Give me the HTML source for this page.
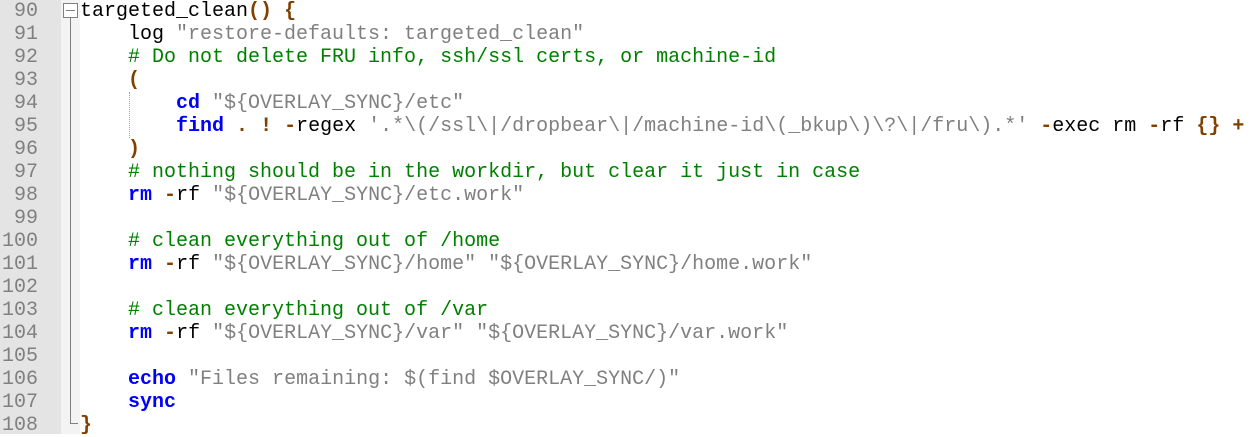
<!DOCTYPE html>
<html><head><meta charset="utf-8"><style>
html,body{margin:0;padding:0;background:#fff;}
body{width:1255px;height:434px;position:relative;overflow:hidden;font-family:"Liberation Mono","Courier New",monospace;font-size:20px;}
#gut{position:absolute;left:0;top:0;width:61px;height:434px;background:#e4e4e4;}
#fold{position:absolute;left:61px;top:0;width:19px;height:434px;background:#f3f3f3;}
.ln{position:absolute;left:0;width:38px;text-align:right;color:#808080;height:23px;line-height:23px;white-space:pre;}
.cl{position:absolute;left:80px;height:23px;line-height:23px;white-space:pre;color:#000;}
.k{color:#0000ff;font-weight:bold}
.o{color:#804000;font-weight:bold}
.s{color:#808080}
.c{color:#008000}
</style></head><body>
<div id="gut"></div><div id="fold"></div>
<div style="position:absolute;left:63px;top:3px;width:13px;height:14px;border:1px solid #808080;background:#fff;box-sizing:border-box;width:15px;height:15px"></div>
<div style="position:absolute;left:66px;top:10px;width:9px;height:1px;background:#808080"></div>
<div style="position:absolute;left:70px;top:18px;width:1px;height:405px;background:#808080"></div>
<div style="position:absolute;left:70px;top:423px;width:8px;height:1px;background:#808080"></div>
<div style="position:absolute;left:129px;top:92px;width:0;height:46px;border-left:1px dotted #a0a0a0"></div>

<div class="ln" style="top:0px">90</div>
<div class="ln" style="top:23px">91</div>
<div class="ln" style="top:46px">92</div>
<div class="ln" style="top:69px">93</div>
<div class="ln" style="top:92px">94</div>
<div class="ln" style="top:115px">95</div>
<div class="ln" style="top:138px">96</div>
<div class="ln" style="top:161px">97</div>
<div class="ln" style="top:184px">98</div>
<div class="ln" style="top:207px">99</div>
<div class="ln" style="top:230px">100</div>
<div class="ln" style="top:253px">101</div>
<div class="ln" style="top:276px">102</div>
<div class="ln" style="top:299px">103</div>
<div class="ln" style="top:322px">104</div>
<div class="ln" style="top:345px">105</div>
<div class="ln" style="top:368px">106</div>
<div class="ln" style="top:391px">107</div>
<div class="ln" style="top:414px">108</div>

<div class="cl" style="top:0px">targeted_clean<span class="o">()</span> <span class="o">{</span></div>
<div class="cl" style="top:23px">    log <span class="s">"restore-defaults: targeted_clean"</span></div>
<div class="cl" style="top:46px">    <span class="c"># Do not delete FRU info, ssh/ssl certs, or machine-id</span></div>
<div class="cl" style="top:69px">    <span class="o">(</span></div>
<div class="cl" style="top:92px">        <span class="k">cd</span> <span class="s">"${OVERLAY_SYNC}/etc"</span></div>
<div class="cl" style="top:115px">        <span class="k">find</span> <span class="o">.</span> <span class="o">!</span> <span class="o">-</span>regex <span class="s">'.*\(/ssl\|/dropbear\|/machine-id\(_bkup\)\?\|/fru\).*'</span> <span class="o">-</span>exec rm <span class="o">-</span>rf <span class="o">{}</span> <span class="o">+</span></div>
<div class="cl" style="top:138px">    <span class="o">)</span></div>
<div class="cl" style="top:161px">    <span class="c"># nothing should be in the workdir, but clear it just in case</span></div>
<div class="cl" style="top:184px">    <span class="k">rm</span> <span class="o">-</span>rf <span class="s">"${OVERLAY_SYNC}/etc.work"</span></div>
<div class="cl" style="top:230px">    <span class="c"># clean everything out of /home</span></div>
<div class="cl" style="top:253px">    <span class="k">rm</span> <span class="o">-</span>rf <span class="s">"${OVERLAY_SYNC}/home"</span> <span class="s">"${OVERLAY_SYNC}/home.work"</span></div>
<div class="cl" style="top:299px">    <span class="c"># clean everything out of /var</span></div>
<div class="cl" style="top:322px">    <span class="k">rm</span> <span class="o">-</span>rf <span class="s">"${OVERLAY_SYNC}/var"</span> <span class="s">"${OVERLAY_SYNC}/var.work"</span></div>
<div class="cl" style="top:368px">    <span class="k">echo</span> <span class="s">"Files remaining: $(find $OVERLAY_SYNC/)"</span></div>
<div class="cl" style="top:391px">    <span class="k">sync</span></div>
<div class="cl" style="top:414px"><span class="o">}</span></div>
</body></html>
